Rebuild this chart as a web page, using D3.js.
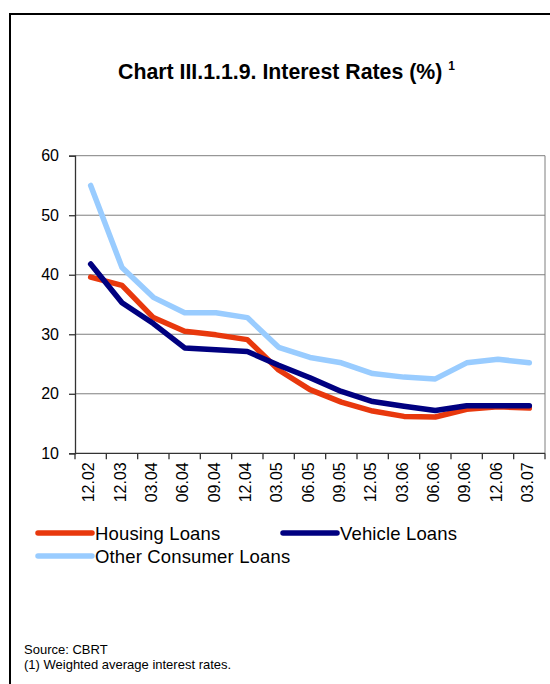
<!DOCTYPE html>
<html>
<head>
<meta charset="utf-8">
<script src="https://cdn.jsdelivr.net/npm/d3@7"></script>
<style>
  html, body { margin: 0; padding: 0; background: #fff; }
  svg { display: block; font-family: "Liberation Sans", Arial, sans-serif; }
</style>
</head>
<body>
<div id="chart"></div>
<script>
const months = ["12.02", "12.03", "03.04", "06.04", "09.04", "12.04", "03.05", "06.05",
  "09.05", "12.05", "03.06", "06.06", "09.06", "12.06", "03.07"];
const housing = [39.6, 38.2, 32.8, 30.5, 29.9, 29.1, 24.0, 20.7, 18.6, 17.1, 16.2, 16.1, 17.4, 17.8, 17.6];
const vehicle = [41.8, 35.3, 31.8, 27.7, 27.4, 27.1, 24.8, 22.7, 20.4, 18.7, 17.9, 17.2, 18.0, 18.0, 18.0];
const other = [55.0, 41.2, 36.2, 33.6, 33.6, 32.8, 27.8, 26.1, 25.2, 23.4, 22.8, 22.5, 25.2, 25.8, 25.2];
const yTicks = [10, 20, 30, 40, 50, 60];

const series = [
  { name: "Other Consumer Loans", values: other, color: "#99ccff" },
  { name: "Housing Loans", values: housing, color: "#e8380d" },
  { name: "Vehicle Loans", values: vehicle, color: "#000080" }
];

const W = 550, H = 684;
const plot = { left: 75, right: 545, top: 155.7, bottom: 453.3 };

const svg = d3.select("#chart").append("svg")
  .attr("width", W).attr("height", H);

// outer frame (runs off the right and bottom edge)
svg.append("rect")
  .attr("x", 10).attr("y", 14)
  .attr("width", 700).attr("height", 800)
  .attr("fill", "none").attr("stroke", "#000").attr("stroke-width", 2);

// title
const title = svg.append("text")
  .attr("x", 118).attr("y", 79)
  .attr("font-size", 21.3).attr("font-weight", "bold").attr("fill", "#000")
  .text("Chart III.1.1.9. Interest Rates (%) ");
title.append("tspan")
  .attr("font-size", 12).attr("dy", -9)
  .text("1");

const x = d3.scaleBand().domain(months).range([plot.left, plot.right]);
const y = d3.scaleLinear().domain([10, 60]).range([plot.bottom, plot.top]);

// gridlines
svg.append("g")
  .selectAll("line")
  .data(yTicks.filter(t => t > 10))
  .join("line")
  .attr("x1", plot.left).attr("x2", plot.right)
  .attr("y1", d => y(d)).attr("y2", d => y(d))
  .attr("stroke", "#7f7f7f").attr("stroke-width", 1);

// right border of plot area
svg.append("line")
  .attr("x1", plot.right).attr("x2", plot.right)
  .attr("y1", plot.top).attr("y2", plot.bottom)
  .attr("stroke", "#7f7f7f").attr("stroke-width", 1);

// y axis
const yAxis = svg.append("g")
  .attr("transform", `translate(${plot.left},0)`)
  .call(d3.axisLeft(y).tickValues(yTicks).tickSize(6).tickPadding(10).tickFormat(d3.format("d")));
yAxis.selectAll("path, line").attr("stroke", "#333").attr("stroke-width", 1.3);
yAxis.selectAll("text")
  .attr("font-size", 16).attr("fill", "#000")
  .attr("font-family", "Liberation Sans, Arial, sans-serif");

// x axis: ticks at category boundaries
const xAxis = svg.append("g")
  .attr("transform", `translate(0,${plot.bottom})`);
xAxis.append("line")
  .attr("x1", plot.left).attr("x2", plot.right)
  .attr("stroke", "#333").attr("stroke-width", 1.3);
const bounds = months.map(m => x(m)).concat([x.range()[1]]);
xAxis.selectAll("line.tick")
  .data(bounds)
  .join("line")
  .attr("class", "tick")
  .attr("x1", d => d).attr("x2", d => d)
  .attr("y1", 0).attr("y2", 6)
  .attr("stroke", "#333").attr("stroke-width", 1.3);
xAxis.selectAll("text")
  .data(months)
  .join("text")
  .attr("transform", d => `translate(${x(d) + x.bandwidth() / 2 - 2},9) rotate(-90)`)
  .attr("text-anchor", "end")
  .attr("dy", "0.35em")
  .attr("font-size", 16).attr("fill", "#000")
  .text(d => d);

// lines
const line = d3.line()
  .x((d, i) => x(months[i]) + x.bandwidth() / 2)
  .y(d => y(d));

svg.append("g")
  .selectAll("path")
  .data(series)
  .join("path")
  .attr("d", d => line(d.values))
  .attr("fill", "none")
  .attr("stroke", d => d.color)
  .attr("stroke-width", 5.5)
  .attr("stroke-linejoin", "round")
  .attr("stroke-linecap", "round");

// legend
const legendItems = [
  { s: series[1], x: 38, y: 533 },
  { s: series[2], x: 283, y: 533 },
  { s: series[0], x: 38, y: 556 }
];
const leg = svg.append("g").selectAll("g")
  .data(legendItems)
  .join("g")
  .attr("transform", d => `translate(${d.x},${d.y})`);
leg.append("line")
  .attr("x1", 0).attr("x2", 54)
  .attr("stroke", d => d.s.color)
  .attr("stroke-width", 5.5)
  .attr("stroke-linecap", "round");
leg.append("text")
  .attr("x", 57).attr("dy", "0.36em")
  .attr("font-size", 18.5).attr("letter-spacing", 0.15).attr("fill", "#000")
  .text(d => d.s.name);

// notes
svg.append("text")
  .attr("x", 24).attr("y", 654)
  .attr("font-size", 13).attr("fill", "#000")
  .text("Source: CBRT");
svg.append("text")
  .attr("x", 24).attr("y", 669)
  .attr("font-size", 13).attr("fill", "#000")
  .text("(1) Weighted average interest rates.");
</script>
</body>
</html>
